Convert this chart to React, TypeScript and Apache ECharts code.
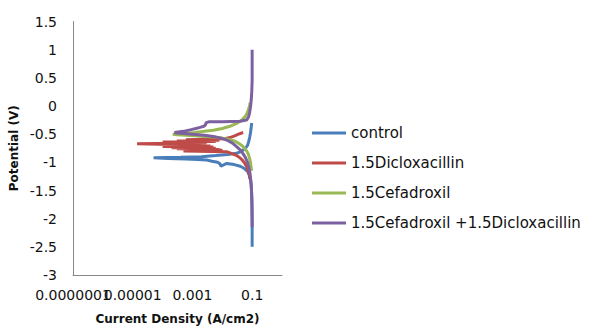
import React, { useEffect, useRef } from "react";
import * as echarts from "echarts";

const seriesNames = ["control", "1.5Dicloxacillin", "1.5Cefadroxil", "1.5Cefadroxil +1.5Dicloxacillin"];
const seriesColors = ["#4a7ebb", "#be4b48", "#98b954", "#7d60a0"];

const xTickLabels = ["0.0000001", "0.00001", "0.001", "0.1"];
const xTickExponents = [-7, -5, -3, -1];

const controlE = [-2.5, -2.3, -2.1, -1.9, -1.7, -1.55, -1.4, -1.3, -1.22, -1.16, -1.11, -1.07, -1.04, -1.02, -1.07, -1.03, -1.0, -0.98, -0.96, -0.95, -0.94, -0.93, -0.92, -0.91, -0.9, -0.88, -0.86, -0.84, -0.8, -0.75, -0.7, -0.62, -0.55, -0.48, -0.4, -0.33, -0.3];
const controlI = [0.1, 0.1, 0.1, 0.099, 0.098, 0.096, 0.093, 0.088, 0.08, 0.07, 0.055, 0.04, 0.025, 0.014, 0.009, 0.0085, 0.007, 0.0045, 0.003, 0.0015, 0.0006, 0.00015, 0.00005, 0.0004, 0.002, 0.006, 0.015, 0.03, 0.045, 0.06, 0.07, 0.078, 0.083, 0.088, 0.092, 0.095, 0.097];

const dicloE = [-1.3, -1.22, -1.15, -1.08, -1.02, -0.96, -0.91, -0.87, -0.84, -0.81, -0.8, -0.79, -0.77, -0.76, -0.75, -0.74, -0.73, -0.72, -0.71, -0.7, -0.69, -0.68, -0.67, -0.66, -0.65, -0.64, -0.63, -0.62, -0.61, -0.6, -0.58, -0.56, -0.53, -0.5, -0.47];
const dicloI = [0.085, 0.08, 0.074, 0.066, 0.057, 0.047, 0.037, 0.028, 0.02, 0.014, 0.0005, 0.01, 0.007, 0.0003, 0.006, 0.0002, 0.005, 0.0001, 0.004, 0.00015, 0.003, 0.00008, 0.000014, 0.0004, 0.003, 0.0001, 0.006, 0.0003, 0.008, 0.0006, 0.012, 0.018, 0.026, 0.035, 0.05];

const cefaE = [-1.15, -1.08, -1.0, -0.93, -0.86, -0.8, -0.75, -0.7, -0.66, -0.62, -0.59, -0.57, -0.55, -0.54, -0.53, -0.52, -0.51, -0.5, -0.49, -0.47, -0.45, -0.43, -0.4, -0.36, -0.31, -0.25, -0.18, -0.11, -0.04, 0.02, 0.06];
const cefaI = [0.095, 0.092, 0.088, 0.082, 0.075, 0.066, 0.056, 0.045, 0.035, 0.025, 0.016, 0.01, 0.005, 0.0025, 0.0012, 0.0006, 0.0003, 0.00022, 0.0005, 0.0012, 0.0025, 0.005, 0.01, 0.018, 0.03, 0.045, 0.06, 0.07, 0.078, 0.083, 0.086];

const comboE = [-2.15, -2.0, -1.8, -1.6, -1.45, -1.32, -1.2, -1.1, -1.0, -0.92, -0.85, -0.78, -0.72, -0.66, -0.61, -0.57, -0.54, -0.52, -0.5, -0.49, -0.48, -0.47, -0.45, -0.42, -0.4, -0.38, -0.36, -0.33, -0.3, -0.28, -0.28, -0.27, -0.25, -0.2, -0.12, -0.02, 0.1, 0.25, 0.45, 0.7, 1.0];
const comboI = [0.1, 0.1, 0.099, 0.097, 0.094, 0.09, 0.085, 0.078, 0.07, 0.06, 0.05, 0.04, 0.03, 0.022, 0.015, 0.009, 0.005, 0.0025, 0.001, 0.0005, 0.0003, 0.00025, 0.0005, 0.0009, 0.0013, 0.0018, 0.0024, 0.0028, 0.0028, 0.0035, 0.01, 0.04, 0.065, 0.075, 0.082, 0.088, 0.093, 0.097, 0.1, 0.1, 0.1];

const allI = [controlI, dicloI, cefaI, comboI];
const allE = [controlE, dicloE, cefaE, comboE];

const FONT = "'DejaVu Sans', sans-serif";

export default function App() {
  const ref = useRef<HTMLDivElement>(null);
  useEffect(() => {
    if (!ref.current) return;
    const chart = echarts.init(ref.current, undefined, { renderer: "svg" });
    const series = seriesNames.map((name, k) => ({
      name,
      type: "line",
      data: allI[k].map((v, i) => [v, allE[k][i]]),
      showSymbol: false,
      symbol: "none",
      lineStyle: { width: 3, color: seriesColors[k] },
      itemStyle: { color: seriesColors[k] },
      z: 2 + k,
    }));
    chart.setOption({
      animation: false,
      backgroundColor: "#ffffff",
      textStyle: { fontFamily: FONT },
      grid: { left: 73, right: 307, top: 21.5, bottom: 53, containLabel: false, outerBoundsMode: "none" },
      legend: {
        orient: "vertical",
        left: 312,
        top: 124,
        padding: 0,
        itemWidth: 34,
        itemHeight: 3,
        itemGap: 12,
        icon: "rect",
        textStyle: { fontSize: 15, lineHeight: 18, color: "#111", fontFamily: FONT },
        data: seriesNames,
      },
      xAxis: {
        type: "log",
        logBase: 10,
        min: 1e-7,
        max: 1,
        splitNumber: 7,
        name: "Current Density (A/cm2)",
        nameLocation: "middle",
        nameGap: 38,
        nameTextStyle: { fontSize: 12, fontWeight: "bold", color: "#111", fontFamily: FONT },
        axisLine: { onZero: false, lineStyle: { color: "#888", width: 1 } },
        axisTick: { show: false },
        splitLine: { show: false },
        axisLabel: {
          fontSize: 14,
          color: "#111",
          margin: 13,
          hideOverlap: false,
          showMinLabel: true,
          showMaxLabel: true,
          formatter: (v: number) => {
            const e = Math.round(Math.log10(v));
            const idx = xTickExponents.indexOf(e);
            return idx >= 0 ? xTickLabels[idx] : "";
          },
        },
      },
      yAxis: {
        type: "value",
        min: -3,
        max: 1.5,
        interval: 0.5,
        name: "Potential (V)",
        nameLocation: "middle",
        nameGap: 53,
        nameTextStyle: { fontSize: 12, fontWeight: "bold", color: "#111", fontFamily: FONT },
        axisLine: { show: true, onZero: false, lineStyle: { color: "#888", width: 1 } },
        axisTick: { show: false },
        splitLine: { show: false },
        axisLabel: { fontSize: 14, color: "#111", margin: 16 },
      },
      series,
    });
    return () => chart.dispose();
  }, []);
  return (
    <div
      ref={ref}
      style={{ position: "fixed", left: 0, top: 0, width: 589, height: 328 }}
    />
  );
}
